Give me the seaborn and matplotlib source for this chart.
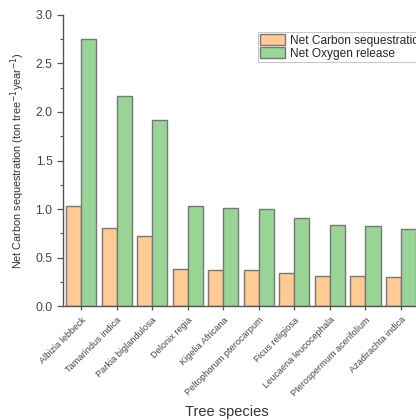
"""Net carbon sequestration vs oxygen release per tree species, grouped bars."""
import matplotlib

matplotlib.use("Agg")
import matplotlib.pyplot as plt
import numpy as np
import pandas as pd
import seaborn as sns
from matplotlib.ticker import MultipleLocator

species = [
    "Albizia lebbeck", "Tamarindus indica", "Parkia biglandulosa", "Delonix regia",
    "Kigelia Africana", "Peltophorum pterocarpum", "Ficus religiosa",
    "Leucaena leucocephala", "Pterospermum acerifolium", "Azadirachta indica",
]
carbon = [1.03, 0.81, 0.72, 0.385, 0.377, 0.377, 0.34, 0.315, 0.31, 0.305]
oxygen = [2.75, 2.16, 1.92, 1.027, 1.007, 1.005, 0.907, 0.835, 0.826, 0.80]
series = ["Net Carbon sequestration", "Net Oxygen release"]
colors = ["#FFCA93", "#99D596"]

df = pd.DataFrame({
    "species": species * 2,
    "value": carbon + oxygen,
    "series": [series[0]] * len(species) + [series[1]] * len(species),
})

sns.set_style("ticks")
plt.rcParams["font.family"] = ["Liberation Sans", "DejaVu Sans"]

fig = plt.figure(figsize=(4.16, 4.2), dpi=100)
ax = fig.add_axes([0.1514, 0.2707, 0.856, 0.6943])

sns.barplot(
    data=df, x="species", y="value", hue="series", palette=colors, saturation=1,
    width=0.85, edgecolor="#777777", linewidth=1.0, ax=ax, legend=True,
)

ax.set_xlim(-0.51, 9.51)
ax.set_ylim(0, 3.0)
ax.yaxis.set_major_locator(MultipleLocator(0.5))
ax.yaxis.set_minor_locator(MultipleLocator(0.25))
ax.yaxis.set_major_formatter(matplotlib.ticker.FormatStrFormatter("%.1f"))

for s in ["top", "right"]:
    ax.spines[s].set_visible(False)
for s in ["left", "bottom"]:
    ax.spines[s].set_color("#555555")
    ax.spines[s].set_linewidth(1.0)

ax.tick_params(axis="y", which="major", length=4, width=0.9, color="#555555",
               labelsize=8.8, labelcolor="#444444", direction="out")
ax.tick_params(axis="y", which="minor", length=2, width=0.8, color="#555555")
ax.tick_params(axis="x", length=3, width=0.9, color="#555555",
               labelsize=6.6, labelcolor="#444444", direction="out")
plt.setp(ax.get_xticklabels(), rotation=45, ha="right", rotation_mode="anchor")

ax.set_xlabel("Tree species", fontsize=10.5, color="#333333", labelpad=1)
ax.set_ylabel("Net Carbon sequestration (ton tree$^{-1}$year$^{-1}$)",
              fontsize=7.8, color="#333333", labelpad=6)
ax.xaxis.set_label_coords(0.46, -0.34)

leg = ax.legend(
    loc="upper left", bbox_to_anchor=(258 / 416, (420 - 32) / 420),
    bbox_transform=fig.transFigure, fontsize=8.6, frameon=True, fancybox=False,
    borderpad=0.2, handlelength=2.1, handleheight=1.0, handletextpad=0.35,
    labelspacing=0.05, borderaxespad=0,
)
leg.get_frame().set_edgecolor("#bbbbbb")
leg.get_frame().set_linewidth(0.8)

fig.savefig("out.png", dpi=100)
plt.close(fig)
